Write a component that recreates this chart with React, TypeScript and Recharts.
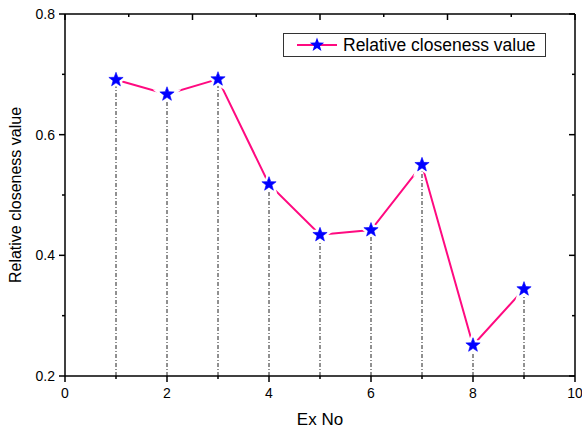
import React from 'react';
import {
  LineChart, Line, XAxis, YAxis, ReferenceLine, Legend
} from 'recharts';

const exNo = [1, 2, 3, 4, 5, 6, 7, 8, 9];
const closeness = [0.691, 0.667, 0.692, 0.518, 0.434, 0.442, 0.550, 0.251, 0.344];
const xTicks = [0, 1, 2, 3, 4, 5, 6, 7, 8, 9, 10];
const yTicks = [0.2, 0.3, 0.4, 0.5, 0.6, 0.7, 0.8];

const data = exNo.map((x, i) => ({ x, value: closeness[i] }));

const PINK = '#ff0a80';
const BLUE = '#0000ff';
const FONT = '"Liberation Sans", Arial, sans-serif';

const starPath = (cx: number, cy: number, R: number, r: number) => {
  let d = '';
  for (let i = 0; i < 10; i++) {
    const rad = i % 2 === 0 ? R : r;
    const a = -Math.PI / 2 + (i * Math.PI) / 5;
    d += (i === 0 ? 'M' : 'L') + (cx + rad * Math.cos(a)).toFixed(2) + ',' + (cy + rad * Math.sin(a)).toFixed(2);
  }
  return d + 'Z';
};

const StarDot = (props: any) => {
  const { cx, cy } = props;
  if (cx == null || cy == null) return null;
  return (
    <g>
      <path d={starPath(cx, cy, 8, 3.4)} fill="#fff" stroke="#fff" strokeWidth={5} />
      <path d={starPath(cx, cy, 7.5, 3.1)} fill={BLUE} stroke={BLUE} strokeWidth={0.6} />
    </g>
  );
};

const isMajorX = (v: number) => v % 2 === 0;
const isMajorY = (v: number) => Math.round(v * 10) % 2 === 0;

const BottomTick = (props: any) => {
  const { x, y, payload } = props;
  const major = isMajorX(payload.value);
  return (
    <g>
      <line x1={x} y1={y} x2={x} y2={y + (major ? 6 : 3)} stroke="#000" strokeWidth={1.5} />
      {major && (
        <text x={x} y={y + 22} textAnchor="middle" fontSize={14} fontFamily={FONT} fill="#000">
          {payload.value}
        </text>
      )}
    </g>
  );
};

const TopTick = (props: any) => {
  const { x, y, payload } = props;
  const major = isMajorX(payload.value);
  return <line x1={x} y1={y} x2={x} y2={y + (major ? 6 : 3)} stroke="#000" strokeWidth={1.5} />;
};

const LeftTick = (props: any) => {
  const { x, y, payload } = props;
  const major = isMajorY(payload.value);
  return (
    <g>
      <line x1={x} y1={y} x2={x - (major ? 6 : 3)} y2={y} stroke="#000" strokeWidth={1.5} />
      {major && (
        <text x={x - 10} y={y + 5} textAnchor="end" fontSize={14} fontFamily={FONT} fill="#000">
          {payload.value.toFixed(1)}
        </text>
      )}
    </g>
  );
};

const RightTick = (props: any) => {
  const { x, y, payload } = props;
  const major = isMajorY(payload.value);
  return <line x1={x} y1={y} x2={x - (major ? 6 : 3)} y2={y} stroke="#000" strokeWidth={1.5} />;
};

const renderLegend = () => (
  <div
    style={{
      width: 263,
      height: 24,
      border: '1.5px solid #333',
      background: '#fff',
      display: 'flex',
      alignItems: 'center',
      fontFamily: FONT,
      fontSize: 17.5,
      color: '#000',
      boxSizing: 'border-box',
    }}
  >
    <svg width={50} height={20} style={{ marginLeft: 11 }}>
      <line x1={2} y1={10} x2={42} y2={10} stroke={PINK} strokeWidth={2} />
      <path d={starPath(22, 10, 7.5, 3.1)} fill={BLUE} />
    </svg>
    <span style={{ marginLeft: -2 }}>Relative closeness value</span>
  </div>
);

const axisLine = { stroke: '#000', strokeWidth: 1.5 };

export default function App() {
  return (
    <div style={{ position: 'absolute', left: 0, top: 0, background: '#fff' }}>
      <LineChart width={582} height={428} data={data} margin={{ top: 13, right: 6, left: 0, bottom: 0 }}>
        <XAxis
          dataKey="x"
          type="number"
          domain={[0, 10]}
          ticks={xTicks}
          interval={0}
          tickSize={0}
          tickMargin={0}
          tickLine={false}
          axisLine={axisLine}
          tick={BottomTick}
          height={52}
          label={{ value: 'Ex No', position: 'insideBottom', offset: 3, fontSize: 17, fontFamily: FONT, fill: '#000' }}
        />
        <XAxis
          xAxisId="top"
          orientation="top"
          type="number"
          domain={[0, 10]}
          allowDataOverflow
          ticks={xTicks}
          interval={0}
          tickSize={0}
          tickMargin={0}
          tickLine={false}
          axisLine={axisLine}
          tick={TopTick}
          height={1}
        />
        <YAxis
          type="number"
          domain={[0.2, 0.8]}
          allowDataOverflow
          ticks={yTicks}
          interval={0}
          tickSize={0}
          tickMargin={0}
          tickLine={false}
          axisLine={axisLine}
          tick={LeftTick}
          width={65}
          label={{
            value: 'Relative closeness value',
            angle: -90,
            position: 'center',
            dx: -17,
            fontSize: 16,
            fontFamily: FONT,
            fill: '#000',
          }}
        />
        <YAxis
          yAxisId="right"
          orientation="right"
          type="number"
          domain={[0.2, 0.8]}
          allowDataOverflow
          ticks={yTicks}
          interval={0}
          tickSize={0}
          tickMargin={0}
          tickLine={false}
          axisLine={axisLine}
          tick={RightTick}
          width={1}
        />
        {data.map((d) => (
          <ReferenceLine
            key={d.x}
            segment={[{ x: d.x, y: 0.2 }, { x: d.x, y: d.value }]}
            stroke="#222"
            strokeWidth={1}
            strokeDasharray="4 2 1 2"
          />
        ))}
        <Line
          dataKey="value"
          type="linear"
          stroke={PINK}
          strokeWidth={2}
          dot={<StarDot />}
          activeDot={false}
          isAnimationActive={false}
        />
        <Legend
          content={renderLegend}
          layout="vertical"
          align="center"
          verticalAlign="middle"
          wrapperStyle={{ position: 'absolute', left: 283, top: 33, width: 263 }}
        />
      </LineChart>
    </div>
  );
}
